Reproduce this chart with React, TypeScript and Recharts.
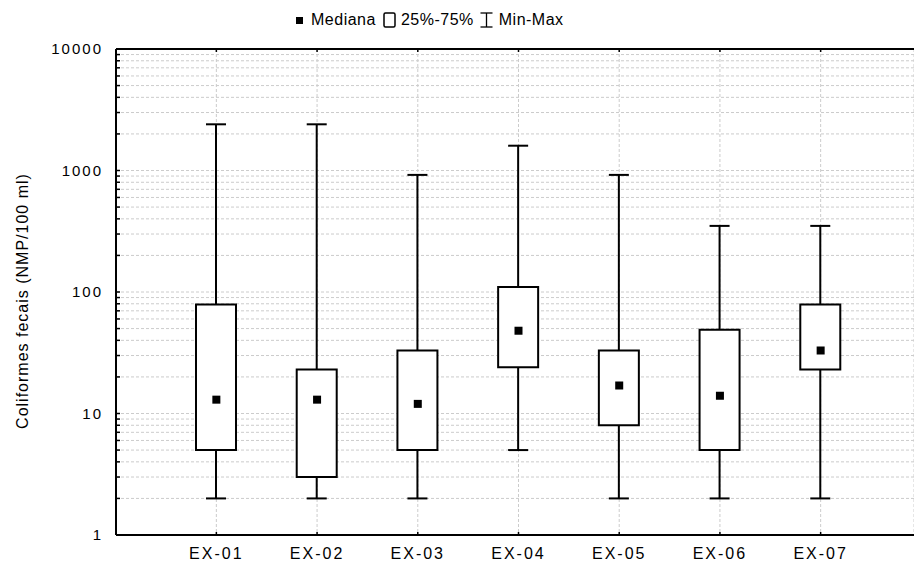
import React from 'react';
import { ComposedChart, Bar, Scatter, XAxis, YAxis, CartesianGrid, Legend } from 'recharts';

// Sampling points and their coliform statistics (NMP/100 ml)
const categories = ['EX-01', 'EX-02', 'EX-03', 'EX-04', 'EX-05', 'EX-06', 'EX-07'];
const minimum = [2, 2, 2, 5, 2, 2, 2];
const quartile1 = [5, 3, 5, 24, 8, 5, 23];
const median = [13, 13, 12, 48, 17, 14, 33];
const quartile3 = [79, 23, 33, 110, 33, 49, 79];
const maximum = [2400, 2400, 920, 1600, 920, 350, 350];

// Log axis: every 1..9 step of each decade gets a tick and a grid line
const decades = [1, 10, 100, 1000];
const steps = [1, 2, 3, 4, 5, 6, 7, 8, 9];
const yTicks = [...decades.flatMap((d) => steps.map((s) => s * d)), 10000];
const yTickLabels = ['1', '10', '100', '1000', '10000'];

const legendItems = ['Mediana', '25%-75%', 'Min-Max'];

const rows = categories.map((name, i) => ({
  name,
  range: [minimum[i], maximum[i]],
  box: [quartile1[i], quartile3[i]],
  median: median[i],
}));

const FONT = '"Liberation Sans", Arial, sans-serif';

const WhiskerShape = (props: any) => {
  const { x, y, width, height } = props;
  if (x == null || y == null) return null;
  const cx = x + width / 2;
  return (
    <g stroke="#000" strokeWidth={2}>
      <line x1={cx} x2={cx} y1={y} y2={y + height} />
      <line x1={x} x2={x + width} y1={y} y2={y} />
      <line x1={x} x2={x + width} y1={y + height} y2={y + height} />
    </g>
  );
};

const MedianShape = (props: any) => {
  const { cx, cy } = props;
  if (cx == null || cy == null) return null;
  return <rect x={cx - 4} y={cy - 4} width={8} height={8} fill="#000" />;
};

const YLabel = (props: any) => {
  const vb = props.viewBox || { x: 0, y: 0, width: 0, height: 0 };
  const x = vb.x + 22;
  const y = vb.y + vb.height / 2 + 9;
  return (
    <text
      x={x}
      y={y}
      transform={`rotate(-90, ${x}, ${y})`}
      textAnchor="middle"
      dominantBaseline="central"
      fontFamily={FONT}
      fontSize={16}
      letterSpacing={1}
      fill="#000"
    >
      Coliformes fecais (NMP/100 ml)
    </text>
  );
};

// Legend strip: median marker, quartile box and min-max whisker with their captions
const LegendContent = () => (
  <div
    style={{
      display: 'flex',
      alignItems: 'center',
      fontFamily: FONT,
      fontSize: 16,
      letterSpacing: 0.5,
      color: '#000',
      whiteSpace: 'nowrap',
      lineHeight: '20px',
    }}
  >
    <svg width={7} height={7} style={{ display: 'block' }}>
      <rect x={0} y={0} width={7} height={7} fill="#000" />
    </svg>
    <span style={{ marginLeft: 8 }}>{legendItems[0]}</span>
    <svg width={13} height={16} style={{ display: 'block', marginLeft: 7 }}>
      <rect x={1} y={1} width={11} height={14} rx={1.5} fill="#fff" stroke="#000" strokeWidth={1.5} />
    </svg>
    <span style={{ marginLeft: 5 }}>{legendItems[1]}</span>
    <svg width={13} height={16} style={{ display: 'block', marginLeft: 6 }}>
      <g stroke="#000" strokeWidth={1.3}>
        <line x1={6.5} x2={6.5} y1={1} y2={15} />
        <line x1={0.5} x2={12.5} y1={1} y2={1} />
        <line x1={0.5} x2={12.5} y1={15} y2={15} />
      </g>
    </svg>
    <span style={{ marginLeft: 6 }}>{legendItems[2]}</span>
  </div>
);

const formatY = (v: number) => {
  const idx = Math.round(Math.log10(v));
  return Math.abs(Math.log10(v) - idx) < 1e-9 ? yTickLabels[idx] : '';
};

export default function App() {
  return (
    <div style={{ position: 'absolute', left: 0, top: 0, background: '#fff' }}>
      <ComposedChart
        width={914}
        height={563}
        data={rows}
        margin={{ top: 48, right: 0, bottom: 0, left: 0 }}
      >
        <CartesianGrid stroke="#cccccc" strokeDasharray="3 2" strokeWidth={1} />
        <XAxis
          dataKey="name"
          height={28}
          padding={{ left: 50, right: 43 }}
          interval={0}
          tickSize={-3}
          tickMargin={16}
          axisLine={{ stroke: '#000', strokeWidth: 2 }}
          tickLine={{ stroke: '#000', strokeWidth: 1.5 }}
          tick={{ fontSize: 16, fill: '#000', fontFamily: FONT, letterSpacing: 2 }}
        />
        <XAxis
          xAxisId="top"
          orientation="top"
          dataKey="name"
          height={1}
          padding={{ left: 50, right: 43 }}
          interval={0}
          tickSize={-3}
          tickFormatter={() => ''}
          axisLine={{ stroke: '#000', strokeWidth: 2 }}
          tickLine={{ stroke: '#000', strokeWidth: 1.5 }}
        />
        <YAxis
          scale="log"
          domain={[1, 10000]}
          ticks={yTicks}
          interval={0}
          allowDataOverflow
          width={116}
          tickSize={-4}
          tickMargin={17}
          tickFormatter={formatY}
          axisLine={{ stroke: '#000', strokeWidth: 2 }}
          tickLine={{ stroke: '#000', strokeWidth: 1.5 }}
          tick={{ fontSize: 15, fill: '#000', fontFamily: FONT, letterSpacing: 2 }}
          label={<YLabel />}
        />
        <Legend
          layout="horizontal"
          verticalAlign="middle"
          align="center"
          content={<LegendContent />}
          wrapperStyle={{ top: 10, left: 296, width: 290 }}
        />
        <Bar
          dataKey="range"
          name="Min-Max"
          barSize={20}
          shape={<WhiskerShape />}
          isAnimationActive={false}
        />
        <Bar
          xAxisId="top"
          dataKey="box"
          name="25%-75%"
          barSize={40}
          fill="#fff"
          stroke="#000"
          strokeWidth={2}
          isAnimationActive={false}
        />
        <Scatter
          xAxisId="top"
          dataKey="median"
          name="Mediana"
          shape={<MedianShape />}
          isAnimationActive={false}
        />
      </ComposedChart>
    </div>
  );
}
